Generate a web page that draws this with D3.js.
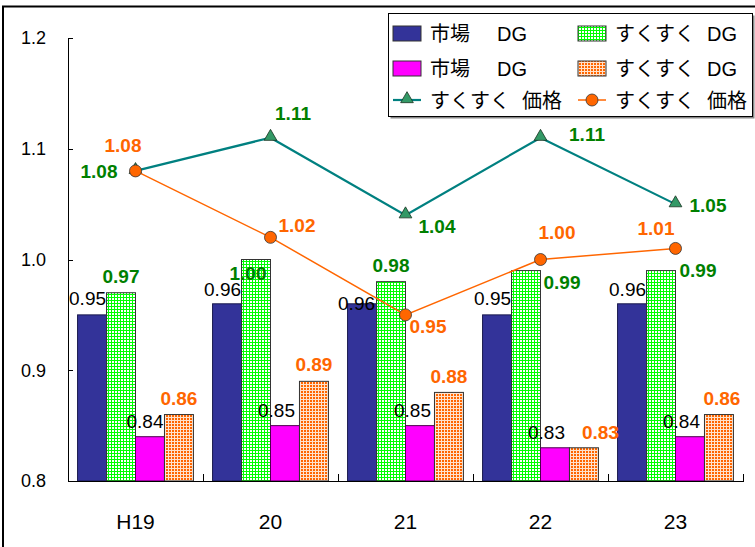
<!DOCTYPE html>
<meta charset="utf-8">
<title>市場 / すくすく DG・価格</title>
<style>
body { margin: 0; background: #fff; }
text { font-family: "Liberation Sans", "Noto Sans CJK JP", sans-serif; }
.axis path, .axis line { stroke: #000; shape-rendering: crispEdges; }
pattern rect { shape-rendering: crispEdges; }
</style>
<script src="https://cdn.jsdelivr.net/npm/d3@7"></script>
<body>
<script>
// ---- data ----
var categories = ["H19", "20", "21", "22", "23"];
var ichibaDG1 = [0.95, 0.96, 0.96, 0.95, 0.96];
var sukuDG1 = [0.97, 1.00, 0.98, 0.99, 0.99];
var ichibaDG2 = [0.84, 0.85, 0.85, 0.83, 0.84];
var sukuDG2 = [0.86, 0.89, 0.88, 0.83, 0.86];
var sukuPriceA = [1.08, 1.11, 1.04, 1.11, 1.05];
var sukuPriceB = [1.08, 1.02, 0.95, 1.00, 1.01];
var yTicks = [0.8, 0.9, 1.0, 1.1, 1.2];
var seriesNames = ["市場 DG", "すくすく DG", "市場 DG", "すくすく DG", "すくすく 価格", "すくすく 価格"];

var width = 755, height = 547;
var plotL = 68, plotR = 743, plotT = 38, plotB = 481;

var svg = d3.select("body").append("svg").attr("width", width).attr("height", height);

// hatch fills
var defs = svg.append("defs");
function grid(id, size, bg, fg) {
  var p = defs.append("pattern").attr("id", id).attr("patternUnits", "userSpaceOnUse")
    .attr("width", size).attr("height", size);
  p.append("rect").attr("width", size).attr("height", size).attr("fill", bg);
  p.append("rect").attr("width", size).attr("height", 1).attr("fill", fg);
  p.append("rect").attr("width", 1).attr("height", size).attr("fill", fg);
}
grid("gGreen", 3, "#ffffff", "#00ff00");
grid("gOrange", 3, "#ff6600", "#ffe2cc");

// outer frame
svg.append("rect").attr("x", 3).attr("y", 6.5).attr("width", 800).attr("height", 600)
  .attr("fill", "#fff").attr("stroke", "#000").attr("stroke-width", 2);

var y = d3.scaleLinear().domain([0.8, 1.2]).range([plotB, plotT]);
var x0 = d3.scaleBand().domain(categories).range([plotL, plotR]);
var barSeries = [
  { values: ichibaDG1, fill: "#333399", stroke: "#1a1a4d" },
  { values: sukuDG1, fill: "url(#gGreen)", stroke: "#333" },
  { values: ichibaDG2, fill: "#ff00ff", stroke: "#4d004d" },
  { values: sukuDG2, fill: "url(#gOrange)", stroke: "#333" }
];
var x1 = d3.scaleBand().domain(d3.range(barSeries.length)).range([0, x0.bandwidth()])
  .paddingInner(0).paddingOuter(0.33);

// bars
barSeries.forEach(function(s, si) {
  svg.append("g").selectAll("rect")
    .data(s.values)
    .enter().append("rect")
    .attr("x", function(d, i) { return x0(categories[i]) + x1(si); })
    .attr("y", function(d) { return y(d); })
    .attr("width", x1.bandwidth())
    .attr("height", function(d) { return y(0.8) - y(d); })
    .attr("fill", s.fill)
    .attr("stroke", s.stroke)
    .attr("stroke-width", 1);
});

// axes
var yAxis = svg.append("g").attr("class", "axis")
  .attr("transform", "translate(" + plotL + ",0)")
  .call(d3.axisLeft(y).tickValues(yTicks).tickFormat(d3.format(".1f"))
    .tickSizeInner(-5).tickSizeOuter(0).tickPadding(22));
yAxis.selectAll("text").style("font-size", "18px").attr("fill", "#000");

var xAxis = svg.append("g").attr("class", "axis")
  .attr("transform", "translate(0," + plotB + ")")
  .call(d3.axisBottom(x0).tickSize(0).tickPadding(33));
xAxis.selectAll("text").style("font-size", "21px").attr("fill", "#000");
// boundary ticks pointing up
xAxis.selectAll(".bound")
  .data(categories)
  .enter().append("line")
  .attr("class", "bound")
  .attr("x1", function(d) { return x0(d) + x0.bandwidth(); })
  .attr("x2", function(d) { return x0(d) + x0.bandwidth(); })
  .attr("y1", 0).attr("y2", -7)
  .attr("stroke", "#000");

// lines
var cx = function(d, i) { return x0(categories[i]) + x0.bandwidth() / 2; };
var line = d3.line().x(cx).y(function(d) { return y(d); });

svg.append("path").datum(sukuPriceA).attr("d", line)
  .attr("fill", "none").attr("stroke", "#008080").attr("stroke-width", 2.2);
svg.append("g").selectAll("path").data(sukuPriceA).enter().append("path")
  .attr("d", d3.symbol(d3.symbolTriangle).size(70))
  .attr("transform", function(d, i) { return "translate(" + cx(d, i) + "," + (y(d) - 1) + ")"; })
  .attr("fill", "#339966").attr("stroke", "#1a3322").attr("stroke-width", 0.8);

svg.append("path").datum(sukuPriceB).attr("d", line)
  .attr("fill", "none").attr("stroke", "#ff6600").attr("stroke-width", 1.5);
svg.append("g").selectAll("circle").data(sukuPriceB).enter().append("circle")
  .attr("cx", cx).attr("cy", function(d) { return y(d); }).attr("r", 6)
  .attr("fill", "#ff6600").attr("stroke", "#333").attr("stroke-width", 0.8);

// data labels (offsets from bar top centre / marker)
var labelSets = [
  { values: ichibaDG1, bar: 0, color: "#000", weight: "normal",
    dx: [-4.5, -4.5, -5.5, -4.5, -4.5], dy: [-10, -8, 6, -10, -8] },
  { values: sukuDG1, bar: 1, color: "#008000", weight: "bold",
    dx: [0, -8, 0, 36, 37], dy: [-10, 20, -10, 18, 6.5] },
  { values: ichibaDG2, bar: 2, color: "#000", weight: "normal",
    dx: [-5, -8.5, -7.5, -8.5, -8.5], dy: [-9, -8.5, -8.5, -9, -9] },
  { values: sukuDG2, bar: 3, color: "#ff6600", weight: "bold",
    dx: [0, 0, 0, 16.5, 3], dy: [-9.5, -10, -9.5, -9, -9.5] },
  { values: sukuPriceA, bar: -1, color: "#008000", weight: "bold",
    dx: [-36.5, 22.5, 31.5, 46.5, 32.5], dy: [7, -17.7, 17.6, 3, 7.5] },
  { values: sukuPriceB, bar: -1, color: "#ff6600", weight: "bold",
    dx: [-12.5, 26.5, 22.5, 16.5, -19.5], dy: [-19, -5, 18, -20.5, -13.4] }
];
labelSets.forEach(function(s) {
  svg.append("g").selectAll("text")
    .data(s.values)
    .enter().append("text")
    .attr("x", function(d, i) {
      var bx = s.bar < 0 ? cx(d, i) : x0(categories[i]) + x1(s.bar) + x1.bandwidth() / 2;
      return bx + s.dx[i];
    })
    .attr("y", function(d, i) { return y(d) + s.dy[i]; })
    .attr("text-anchor", "middle")
    .style("font-size", "19px")
    .style("font-weight", s.weight)
    .attr("fill", s.color)
    .text(function(d) { return d3.format(".2f")(d); });
});

// legend
var lg = svg.append("g");
lg.append("rect").attr("x", 390.5).attr("y", 15.5).attr("width", 364).attr("height", 103).attr("fill", "#888");
lg.append("rect").attr("x", 388.5).attr("y", 13.5).attr("width", 364).attr("height", 103)
  .attr("fill", "#fff").attr("stroke", "#000");
var colX = [393, 578], rowY = [33, 68, 100];
var fills = ["#333399", "url(#gGreen)", "#ff00ff", "url(#gOrange)"];
seriesNames.forEach(function(name, i) {
  var gx = colX[i % 2], gy = rowY[Math.floor(i / 2)];
  var g = lg.append("g").attr("transform", "translate(" + gx + "," + gy + ")");
  if (i < 4) {
    g.append("rect").attr("x", 0).attr("y", -7).attr("width", 28).attr("height", 15)
      .attr("fill", fills[i]).attr("stroke", "#333");
  } else if (i === 4) {
    g.append("line").attr("x1", 0).attr("x2", 28).attr("stroke", "#008080").attr("stroke-width", 2.2);
    g.append("path").attr("d", d3.symbol(d3.symbolTriangle).size(70))
      .attr("transform", "translate(14,-1)").attr("fill", "#339966").attr("stroke", "#1a3322").attr("stroke-width", 0.8);
  } else {
    g.append("line").attr("x1", 0).attr("x2", 28).attr("stroke", "#ff6600").attr("stroke-width", 1.5);
    g.append("circle").attr("cx", 14).attr("r", 6).attr("fill", "#ff6600").attr("stroke", "#333").attr("stroke-width", 0.8);
  }
  var parts = name.split(" ");
  var t = g.append("text").attr("x", 37).attr("y", 8).style("font-size", "20px").attr("fill", "#000");
  t.append("tspan").text(parts[0]);
  t.append("tspan").attr("x", 37 + (parts[0].length > 2 ? 92 : 67)).text(parts[1]);
});
</script>
</body>
